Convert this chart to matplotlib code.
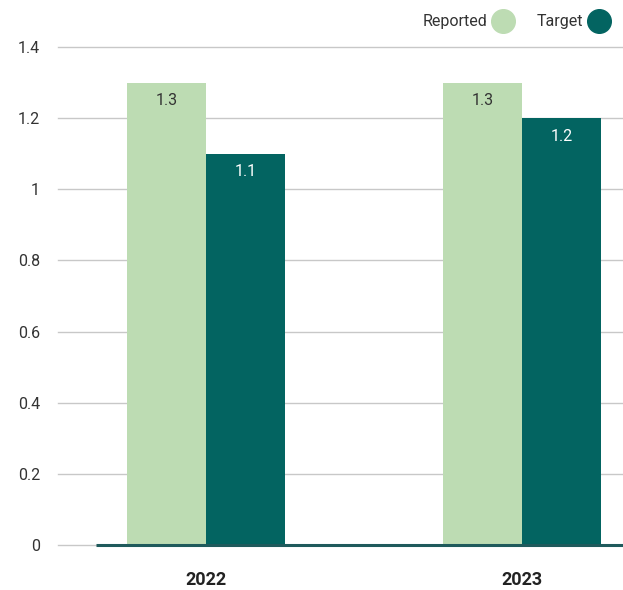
import matplotlib.pyplot as plt
from matplotlib.lines import Line2D
import numpy as np

years = ["2022", "2023"]
reported = [1.3, 1.3]
target = [1.1, 1.2]
yticks = [0, 0.2, 0.4, 0.6, 0.8, 1, 1.2, 1.4]

light = "#bddcb3"
dark = "#036461"

plt.rcParams['font.family'] = ['Roboto', 'DejaVu Sans']

fig = plt.figure(figsize=(6.23, 5.9), dpi=100)
ax = fig.add_axes([0.0931, 0.0763, 0.9069, 0.844])

x = np.arange(len(years))
w = 0.25
b1 = ax.bar(x - w / 2, reported, w, color=light, zorder=3)
b2 = ax.bar(x + w / 2, target, w, color=dark, zorder=3)

for rect, v in zip(b1, reported):
    ax.annotate(f"{v:g}", (rect.get_x() + rect.get_width() / 2, v),
                xytext=(0, -13), textcoords="offset points",
                ha="center", va="center", fontsize=11.5, color="#333333", zorder=4)
for rect, v in zip(b2, target):
    ax.annotate(f"{v:g}", (rect.get_x() + rect.get_width() / 2, v),
                xytext=(0, -13), textcoords="offset points",
                ha="center", va="center", fontsize=11.5, color="white", zorder=4)

ax.set_xlim(-0.468, 1.32)
ax.set_ylim(0, 1.4)
ax.set_yticks(yticks)
ax.set_yticklabels([f"{t:g}" for t in yticks], fontsize=11.5, color="#333333")
ax.yaxis.grid(True, color="#c8c8c8", linewidth=1, zorder=0)
for gl in ax.get_ygridlines():
    gl.set_clip_on(False)
ax.tick_params(axis="y", length=0, pad=13)
ax.tick_params(axis="x", length=0, pad=19)
ax.set_xticks(x)
ax.set_xticklabels(years, fontsize=13, fontweight="bold", color="#222222")
for s in ax.spines.values():
    s.set_visible(False)

# dark baseline under the bars
ax.plot([-0.348, 1.32], [0, 0], color="#1f5a5c", linewidth=2.2, zorder=5,
        solid_capstyle="butt", clip_on=False)

handles = [Line2D([], [], marker="o", linestyle="none", markersize=17,
                  markerfacecolor=c, markeredgecolor=c) for c in (light, dark)]
fig.legend(handles, ["Reported", "Target"], loc="upper right",
           bbox_to_anchor=(1.0, 0.995), ncol=2, frameon=False,
           markerfirst=False, fontsize=11.5, handletextpad=0.2,
           columnspacing=1.3, handlelength=1.6, borderaxespad=0.3,
           labelcolor="#333333")

fig.savefig("out.png", dpi=100)
